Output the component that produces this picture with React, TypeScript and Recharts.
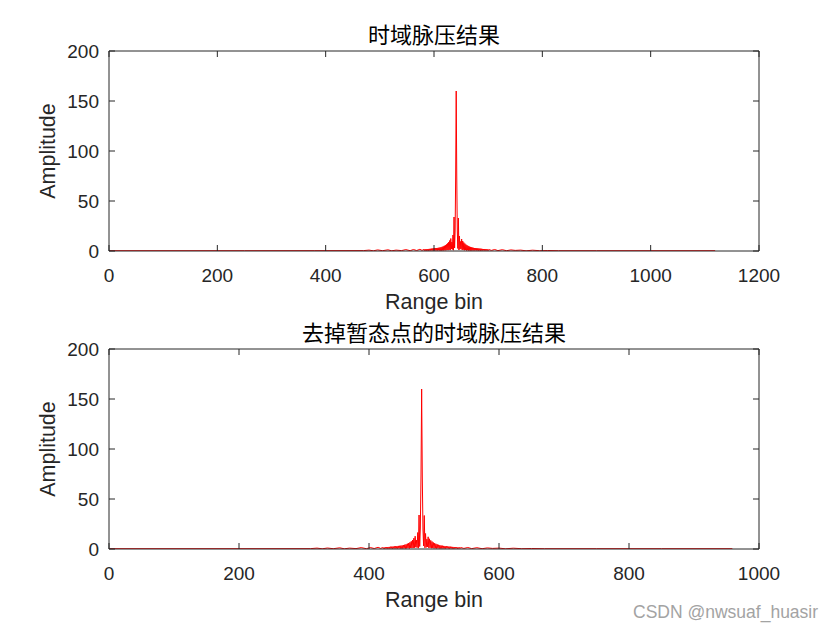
import React from 'react';
import { LineChart, Line, XAxis, YAxis } from 'recharts';

const topTitle = '时域脉压结果';
const bottomTitle = '去掉暂态点的时域脉压结果';
const xLabel = 'Range bin';
const yLabel = 'Amplitude';
const watermark = 'CSDN @nwsuaf_huasir';
const topXTicks = [0, 200, 400, 600, 800, 1000, 1200];
const bottomXTicks = [0, 200, 400, 600, 800, 1000];
const yTicks = [0, 50, 100, 150, 200];

// top panel: sparse baseline/noise points [bin, amplitude]
const topLeftNoise: [number, number][] = [
  [0, 0.3], [120, 0.3], [250, 0.3], [380, 0.35], [470, 0.4], [480, 0.9], [488, 0.2], [496, 1.1],
  [505, 0.3], [515, 1.2], [522, 0.2], [530, 0.9], [540, 0.4], [548, 1.4], [556, 0.3], [562, 1.5],
  [568, 0.5], [574, 1.7], [578, 0.6],
];
const topPeakStart = 581;
const topPeakValues = [
  1.6, 0.3, 1.7, 0.4, 1.8, 0.3, 1.9, 0.5, 2.0, 0.3, 2.1, 0.5, 2.2, 0.4, 2.4, 0.6, 2.5, 0.4, 2.6, 0.7,
  2.8, 0.5, 2.9, 0.6, 3.0, 0.4, 3.1, 0.7, 3.3, 0.5,
  3.5, 0.5, 3.8, 0.4, 4.2, 0.6, 4.6, 0.5, 5.2, 0.8, 5.8, 0.6, 6.6, 1.0, 7.6, 0.8, 8.8, 1.2, 10.5, 0.9,
  12.5, 2.0, 9.0, 1.5, 16, 0.8, 34, 3, 20, 75,
  160,
  75, 20, 2.5, 33, 1, 15, 1.8, 9.5, 2.2, 12, 1, 10, 1.3, 8.5, 0.7, 7.4, 1, 6.4, 0.5, 5.7,
  0.8, 5.1, 0.4, 4.5, 0.6, 4.1, 0.3, 3.7, 0.5, 3.4,
  0.6, 3.2, 0.4, 3.0, 0.7, 2.9, 0.5, 2.8, 0.6, 2.7, 0.4, 2.5, 0.6, 2.4, 0.3, 2.3, 0.5, 2.1, 0.4, 2.0,
  0.6, 1.9, 0.3, 1.8, 0.5, 1.7, 0.4, 1.6, 0.3, 1.5,
];
const topRightNoise: [number, number][] = [
  [706, 0.6], [712, 1.5], [718, 0.4], [726, 1.3], [734, 0.3], [742, 1.1], [750, 0.6], [760, 0.9],
  [770, 0.2], [782, 0.8], [795, 0.3], [810, 0.5], [830, 0.3], [900, 0.3], [1000, 0.3], [1119, 0.3],
];

// bottom panel
const bottomLeftNoise: [number, number][] = [
  [0, 0.3], [100, 0.3], [200, 0.3], [310, 0.35], [320, 0.9], [328, 0.2], [336, 1.0], [345, 0.3],
  [355, 1.2], [362, 0.2], [370, 0.9], [380, 0.4], [388, 1.4], [396, 0.3], [402, 1.5], [408, 0.5],
  [414, 1.7], [418, 0.6],
];
const bottomPeakStart = 421;
const bottomPeakValues = [
  1.5, 0.4, 1.6, 0.3, 1.8, 0.5, 1.9, 0.3, 2.0, 0.6, 2.1, 0.4, 2.3, 0.5, 2.4, 0.3, 2.5, 0.6, 2.7, 0.4,
  2.8, 0.6, 2.9, 0.5, 3.1, 0.7, 3.2, 0.4, 3.4, 0.6,
  3.6, 0.4, 3.9, 0.7, 4.3, 0.5, 4.7, 0.6, 5.3, 0.9, 5.9, 0.5, 6.7, 1.1, 7.7, 0.9, 9.0, 1.0, 10.8, 1.3,
  12.8, 1.8, 8.8, 1.4, 16.5, 0.9, 34, 2.5, 21, 74,
  160,
  72, 20, 3, 33.5, 1.2, 15.5, 1.6, 9.8, 2.0, 12.2, 1.1, 10.2, 1.2, 8.6, 0.8, 7.5, 0.9, 6.5, 0.6, 5.8,
  0.7, 5.2, 0.5, 4.6, 0.7, 4.2, 0.4, 3.8, 0.6, 3.5,
  0.5, 3.3, 0.5, 3.1, 0.6, 2.9, 0.4, 2.8, 0.7, 2.6, 0.5, 2.5, 0.4, 2.4, 0.6, 2.2, 0.3, 2.1, 0.5, 2.0,
  0.4, 1.9, 0.6, 1.8, 0.3, 1.7, 0.5, 1.6, 0.4, 1.5,
];
const bottomRightNoise: [number, number][] = [
  [546, 0.6], [552, 1.5], [558, 0.4], [566, 1.3], [574, 0.3], [582, 1.1], [590, 0.6], [600, 0.9],
  [610, 0.2], [622, 0.8], [635, 0.3], [650, 0.5], [670, 0.3], [750, 0.3], [850, 0.3], [959, 0.3],
];

const buildRows = (left: [number, number][], start: number, peak: number[], right: [number, number][]) => [
  ...left.map(([x, y]) => ({ x, y })),
  ...peak.map((y, i) => ({ x: start + i, y })),
  ...right.map(([x, y]) => ({ x, y })),
];

const topData = buildRows(topLeftNoise, topPeakStart, topPeakValues, topRightNoise);
const bottomData = buildRows(bottomLeftNoise, bottomPeakStart, bottomPeakValues, bottomRightNoise);

const AXIS_COLOR = '#262626';
const TICK_FS = 19;
const LABEL_FS = 21.5;
const TICK_LEN = 6;
const SANS = '"Liberation Sans", Arial, Helvetica, sans-serif';
const CJK = '"Noto Sans CJK SC", sans-serif';
const PLOT_LEFT = 109;
const PLOT_RIGHT = 759;
const PLOT_TOP = 51;
const PLOT_H = 200;

const BottomTick = (props: any) => {
  const { x, y, payload } = props;
  return (
    <g>
      <line x1={x} x2={x} y1={y} y2={y - TICK_LEN} stroke={AXIS_COLOR} strokeWidth={1} />
      <text x={x} y={y + 31} textAnchor="middle" fontSize={TICK_FS} fill={AXIS_COLOR} fontFamily={SANS}>
        {payload.value}
      </text>
    </g>
  );
};
const TopTick = (props: any) => {
  const { x } = props;
  return <line x1={x} x2={x} y1={PLOT_TOP} y2={PLOT_TOP + TICK_LEN} stroke={AXIS_COLOR} strokeWidth={1} />;
};
const LeftTick = (props: any) => {
  const { y, payload } = props;
  return (
    <g>
      <line x1={PLOT_LEFT} x2={PLOT_LEFT + TICK_LEN} y1={y} y2={y} stroke={AXIS_COLOR} strokeWidth={1} />
      <text x={PLOT_LEFT - 10} y={y + 0.355 * TICK_FS} textAnchor="end" fontSize={TICK_FS} fill={AXIS_COLOR} fontFamily={SANS}>
        {payload.value}
      </text>
    </g>
  );
};
const RightTick = (props: any) => {
  const { y } = props;
  return <line x1={PLOT_RIGHT} x2={PLOT_RIGHT - TICK_LEN} y1={y} y2={y} stroke={AXIS_COLOR} strokeWidth={1} />;
};

const makeTitle = (title: string) => (p: any) => (
  <text x={(PLOT_LEFT + PLOT_RIGHT) / 2} y={43} textAnchor="middle" fontSize={22} fill="#000" fontFamily={CJK}>
    {title}
  </text>
);

const makeXLabel = (withMark: boolean) => (p: any) => (
  <g>
    <text x={(PLOT_LEFT + PLOT_RIGHT) / 2} y={PLOT_TOP + PLOT_H + 58} textAnchor="middle" fontSize={LABEL_FS} fill={AXIS_COLOR} fontFamily={SANS}>
      {xLabel}
    </text>
    {withMark ? (
      <text x={633} y={320} textAnchor="start" fontSize={17.5} fill="#a3a3a3" fontFamily={SANS}>
        {watermark}
      </text>
    ) : null}
  </g>
);

const yLabelRender = (p: any) => {
  const cy = PLOT_TOP + PLOT_H / 2;
  const bx = 54.6;
  return (
    <text x={bx} y={cy} transform={`rotate(-90 ${bx} ${cy})`} textAnchor="middle" fontSize={LABEL_FS} fill={AXIS_COLOR} fontFamily={SANS}>
      {yLabel}
    </text>
  );
};

type PanelProps = {
  data: { x: number; y: number }[];
  xMax: number;
  xTicks: number[];
  title: string;
  height: number;
  withMark: boolean;
};

const Panel = ({ data, xMax, xTicks, title, height, withMark }: PanelProps) => (
  <LineChart width={840} height={height} data={data} margin={{ top: PLOT_TOP - 1, right: 840 - PLOT_RIGHT - 1, bottom: 0, left: 0 }}>
    <XAxis
      xAxisId="b"
      dataKey="x"
      type="number"
      domain={[0, xMax]}
      ticks={xTicks}
      interval={0}
      orientation="bottom"
      height={height - PLOT_TOP - PLOT_H}
      tickSize={0}
      tickMargin={0}
      tickLine={false}
      tick={BottomTick}
      axisLine={{ stroke: AXIS_COLOR, strokeWidth: 1 }}
      allowDataOverflow
      label={makeXLabel(withMark)}
    />
    <XAxis
      xAxisId="t"
      dataKey="x"
      type="number"
      domain={[0, xMax]}
      ticks={xTicks}
      interval={0}
      orientation="top"
      height={1}
      tickSize={0}
      tickMargin={0}
      tickLine={false}
      tick={TopTick}
      axisLine={{ stroke: AXIS_COLOR, strokeWidth: 1 }}
      allowDataOverflow
      label={makeTitle(title)}
    />
    <YAxis
      yAxisId="l"
      type="number"
      domain={[0, 200]}
      ticks={yTicks}
      interval={0}
      orientation="left"
      width={PLOT_LEFT}
      tickSize={0}
      tickMargin={0}
      tickLine={false}
      tick={LeftTick}
      axisLine={{ stroke: AXIS_COLOR, strokeWidth: 1 }}
      allowDataOverflow
      label={yLabelRender}
    />
    <YAxis
      yAxisId="r"
      type="number"
      domain={[0, 200]}
      ticks={yTicks}
      interval={0}
      orientation="right"
      width={1}
      tickSize={0}
      tickMargin={0}
      tickLine={false}
      tick={RightTick}
      axisLine={{ stroke: AXIS_COLOR, strokeWidth: 1 }}
      allowDataOverflow
    />
    <Line
      xAxisId="b"
      yAxisId="l"
      type="linear"
      dataKey="y"
      stroke="#ff0000"
      strokeWidth={1}
      dot={false}
      activeDot={false}
      isAnimationActive={false}
    />
  </LineChart>
);

export default function App() {
  return (
    <div style={{ position: 'absolute', left: 0, top: 0, width: 840, height: 630, background: '#fff' }}>
      <div style={{ position: 'absolute', left: 0, top: 0 }}>
        <Panel data={topData} xMax={1200} xTicks={topXTicks} title={topTitle} height={325} withMark={false} />
      </div>
      <div style={{ position: 'absolute', left: 0, top: 298 }}>
        <Panel data={bottomData} xMax={1000} xTicks={bottomXTicks} title={bottomTitle} height={332} withMark={true} />
      </div>
    </div>
  );
}
